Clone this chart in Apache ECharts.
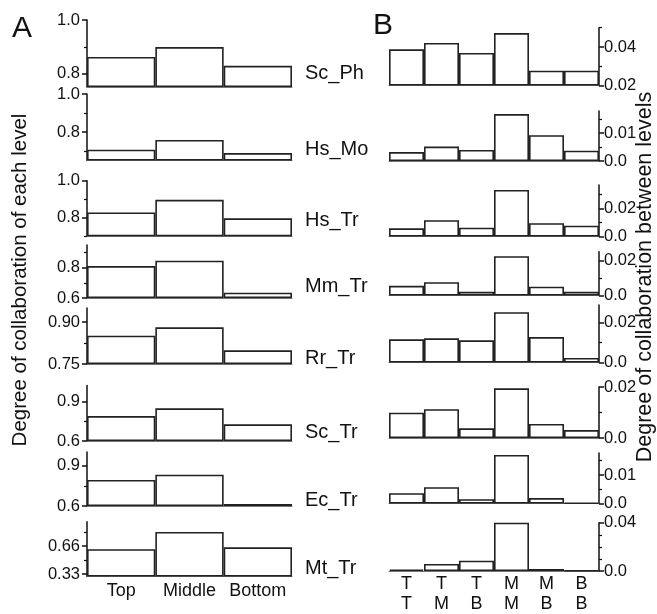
<!DOCTYPE html>
<html>
<head>
<meta charset="utf-8">
<script src="https://cdn.jsdelivr.net/npm/echarts@6/dist/echarts.min.js"></script>
<style>
html,body{margin:0;padding:0;background:#fff;}
#chart{width:657px;height:614px;}
</style>
</head>
<body>
<div id="chart"></div>
<script>
// ---------- DATA ----------
const speciesNames = ['Sc_Ph','Hs_Mo','Hs_Tr','Mm_Tr','Rr_Tr','Sc_Tr','Ec_Tr','Mt_Tr'];
const levelCats = ['Top','Middle','Bottom'];
const pairCats = ['T\nT','T\nM','T\nB','M\nM','M\nB','B\nB'];

// Panel A: degree of collaboration of each level (Top, Middle, Bottom)
const levelScPh = [0.862, 0.899, 0.829];
const levelHsMo = [0.707, 0.758, 0.689];
const levelHsTr = [0.829, 0.897, 0.797];
const levelMmTr = [0.811, 0.846, 0.635];
const levelRrTr = [0.851, 0.881, 0.799];
const levelScTr = [0.789, 0.847, 0.726];
const levelEcTr = [0.793, 0.832, 0.615];
const levelMtTr = [0.623, 0.828, 0.646];

// Panel B: degree of collaboration between levels (TT, TM, TB, MM, MB, BB)
const pairScPh = [0.0388, 0.0421, 0.0369, 0.0472, 0.0277, 0.0277];
const pairHsMo = [0.0032, 0.0052, 0.0040, 0.0169, 0.0093, 0.0037];
const pairHsTr = [0.0058, 0.0115, 0.0062, 0.0330, 0.0094, 0.0077];
const pairMmTr = [0.0055, 0.0076, 0.0021, 0.0224, 0.0050, 0.0021];
const pairRrTr = [0.0117, 0.0122, 0.0112, 0.0254, 0.0128, 0.0023];
const pairScTr = [0.0099, 0.0113, 0.0038, 0.0195, 0.0055, 0.0031];
const pairEcTr = [0.0036, 0.0057, 0.0015, 0.0170, 0.0019, 0.0002];
const pairMtTr = [0.0012, 0.0059, 0.0085, 0.0400, 0.0017, 0.0004];

// Tick labels
const levelTickLabels = [['0.8','1.0'],['0.8','1.0'],['0.8','1.0'],['0.6','0.8'],['0.75','0.90'],['0.6','0.9'],['0.6','0.9'],['0.33','0.66']];
const levelMinorTicks = [[0.9],[0.7,0.9],[0.7,0.9],[0.7,0.9],[0.825],[0.75],[0.75],[0.495,0.825]];
const levelRanges = [[0.75,1.0],[0.65,1.0],[0.7,1.0],[0.6,0.95],[0.75,0.95],[0.6,1.02],[0.6,1.0],[0.3,0.95]];

const pairTickLabels = [['0.02','0.04'],['0.0','0.01'],['0.0','0.02'],['0.0','0.02'],['0.0','0.02'],['0.0','0.02'],['0.0','0.01'],['0.0','0.04']];
const pairMinorTicks = [[0.03,0.05],[0.005,0.015],[0.01,0.03],[0.01],[0.01],[0.01],[0.005,0.015],[0.01,0.02,0.03]];
const pairRanges = [[0.02,0.05],[0,0.018],[0,0.0365],[0,0.025],[0,0.029],[0,0.02],[0,0.0177],[0,0.04]];

const levelSeries = [levelScPh, levelHsMo, levelHsTr, levelMmTr, levelRrTr, levelScTr, levelEcTr, levelMtTr];
const pairSeries = [pairScPh, pairHsMo, pairHsTr, pairMmTr, pairRrTr, pairScTr, pairEcTr, pairMtTr];

// ---------- LAYOUT ----------
const leftRows = [[20,87],[94,160.5],[180.7,236.3],[245,298],[308,364],[385.5,441],[452,506],[521.7,576.5]];
const rightRows = [[27.7,85.5],[111,161],[185,236.5],[251.7,295.5],[305,362.5],[387,438],[453,503.5],[522.7,573.5]];
const rowLabelY = [73, 149, 220, 286, 358, 432, 500, 568];
const FONT = "'Liberation Sans', Arial, sans-serif";
const INK = '#111';

const grids = [], xAxes = [], yAxes = [], series = [];

function addPanel(i, side) {
  const isLeft = side === 'left';
  const rows = isLeft ? leftRows : rightRows;
  const range = isLeft ? levelRanges[i] : pairRanges[i];
  const labels = isLeft ? levelTickLabels[i] : pairTickLabels[i];
  const majors = labels.map(Number);
  const minors = isLeft ? levelMinorTicks[i] : pairMinorTicks[i];
  const g = grids.length;
  grids.push({
    left: isLeft ? 87 : 389,
    width: isLeft ? 205 : 210,
    top: rows[i][0],
    height: rows[i][1] - rows[i][0],
    containLabel: false
  });
  const last = i === speciesNames.length - 1;
  xAxes.push({
    gridIndex: g, type: 'category', data: isLeft ? levelCats : pairCats,
    boundaryGap: true,
    axisLine: { show: true, onZero: false, lineStyle: { color: '#777', width: 1 } },
    axisTick: { show: false },
    axisLabel: {
      show: last, interval: 0, color: INK, fontFamily: FONT, fontSize: 18,
      lineHeight: 20, margin: isLeft ? 5 : 3
    },
    splitLine: { show: false }
  });
  const pos = isLeft ? 'left' : 'right';
  const yMain = yAxes.length;
  yAxes.push({
    gridIndex: g, type: 'value', position: pos, min: range[0], max: range[1],
    startValue: range[0],
    axisLine: { show: true, onZero: false, lineStyle: { color: INK, width: 1.5 } },
    axisTick: { show: true, customValues: majors, length: 5, inside: false, lineStyle: { color: INK, width: 1.5 } },
    axisLabel: {
      customValues: majors, color: INK, fontFamily: FONT, fontSize: 16.5,
      margin: isLeft ? 7 : 5,
      formatter: function (v) {
        for (let k = 0; k < majors.length; k++) if (Math.abs(v - majors[k]) < 1e-9) return labels[k];
        return '';
      }
    },
    splitLine: { show: false }
  });
  yAxes.push({
    gridIndex: g, type: 'value', position: pos, min: range[0], max: range[1],
    axisLine: { show: false, onZero: false },
    axisTick: { show: true, customValues: minors, length: 3, inside: false, lineStyle: { color: INK, width: 1.2 } },
    axisLabel: { show: false },
    splitLine: { show: false }
  });
  series.push({
    type: 'bar', xAxisIndex: g, yAxisIndex: yMain,
    data: isLeft ? levelSeries[i] : pairSeries[i],
    barCategoryGap: '0%', barGap: '0%',
    itemStyle: { color: '#fff', borderColor: '#222', borderWidth: 1.6 },
    silent: true
  });
}

for (let i = 0; i < speciesNames.length; i++) {
  addPanel(i, 'left');
  addPanel(i, 'right');
}

const graphics = [
  { type: 'text', left: 12, top: 14, style: { text: 'A', font: '30px ' + FONT, fill: INK } },
  { type: 'text', left: 373, top: 11, style: { text: 'B', font: '30px ' + FONT, fill: INK } },
  { type: 'text', x: 20, y: 280, rotation: Math.PI / 2,
    style: { text: 'Degree of collaboration of each level', font: '20.5px ' + FONT, fill: INK, align: 'center', verticalAlign: 'middle' } },
  { type: 'text', x: 645, y: 277, rotation: Math.PI / 2,
    style: { text: 'Degree of collaboration between levels', font: '21.5px ' + FONT, fill: INK, align: 'center', verticalAlign: 'middle' } }
];
speciesNames.forEach(function (name, i) {
  graphics.push({ type: 'text', x: 305, y: rowLabelY[i],
    style: { text: name, font: '20px ' + FONT, fill: INK, align: 'left', verticalAlign: 'middle' } });
});

const chart = echarts.init(document.getElementById('chart'), null, { renderer: 'canvas' });
chart.setOption({
  backgroundColor: '#fff',
  animation: false,
  grid: grids,
  xAxis: xAxes,
  yAxis: yAxes,
  series: series,
  graphic: graphics
});
</script>
</body>
</html>
